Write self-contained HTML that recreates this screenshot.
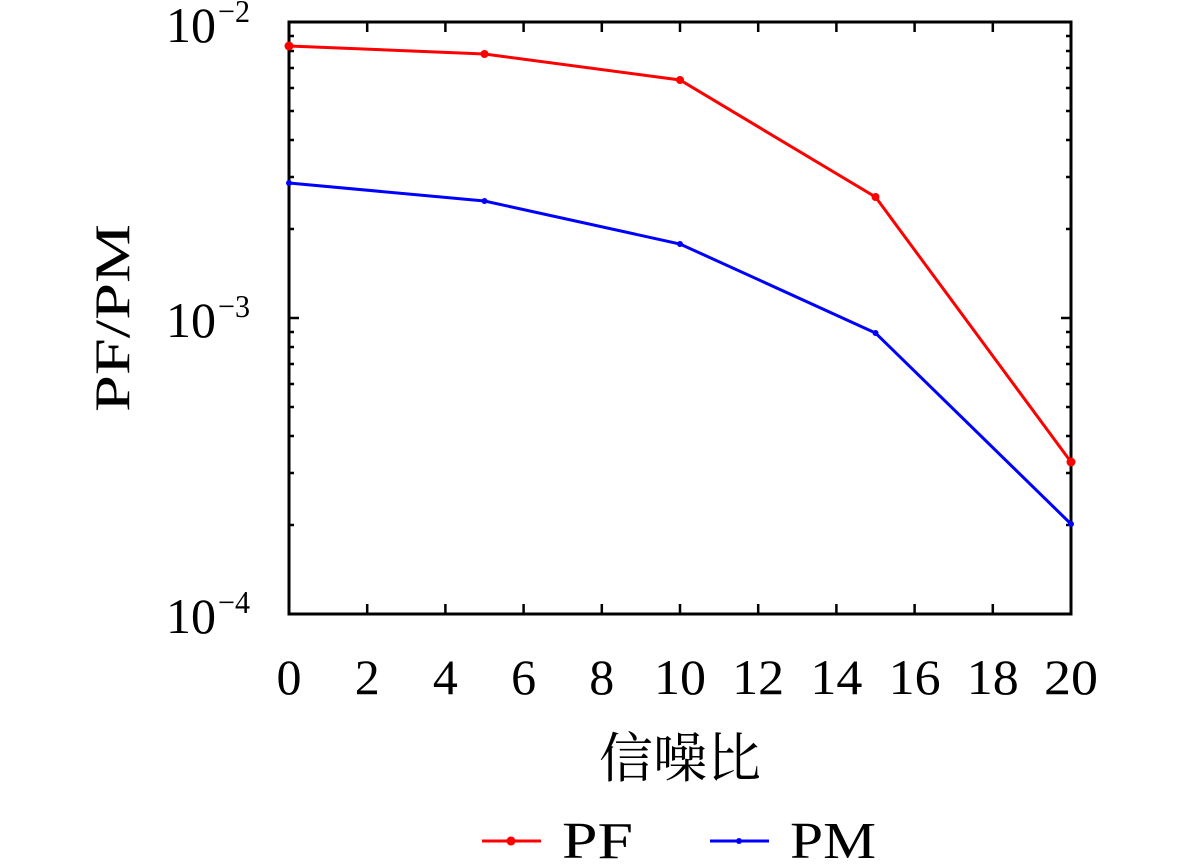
<!DOCTYPE html>
<html><head><meta charset="utf-8"><style>
body{margin:0;background:#fff;}
text{font-family:"Liberation Serif","Noto Serif CJK SC",serif;fill:#000;}
</style></head><body>
<svg width="1181" height="862" viewBox="0 0 1181 862" xmlns="http://www.w3.org/2000/svg">
<rect x="289" y="22" width="782" height="592" fill="none" stroke="#000" stroke-width="3"/>
<g stroke="#000" stroke-width="2.5">
<path d="M367.2 614v-10M445.4 614v-10M523.6 614v-10M601.8 614v-10M680 614v-10M758.2 614v-10M836.4 614v-10M914.6 614v-10M992.8 614v-10
M367.2 22v10M445.4 22v10M523.6 22v10M601.8 22v10M680 22v10M758.2 22v10M836.4 22v10M914.6 22v10M992.8 22v10
M289 318h10M1071 318h-10"/>
<path d="
M289 525h5M289 473h5M289 436h5M289 407h5M289 384h5M289 364h5M289 347h5M289 332h5
M289 229h5M289 177h5M289 140h5M289 111h5M289 88h5M289 68h5M289 51h5M289 36h5
M1071 525h-5M1071 473h-5M1071 436h-5M1071 407h-5M1071 384h-5M1071 364h-5M1071 347h-5M1071 332h-5
M1071 229h-5M1071 177h-5M1071 140h-5M1071 111h-5M1071 88h-5M1071 68h-5M1071 51h-5M1071 36h-5"/>
</g>
<polyline points="289,46 484.5,54 680,80 875.5,197 1071,462" fill="none" stroke="#f00" stroke-width="3"/>
<g fill="#f00"><circle cx="289" cy="46" r="4.5"/><circle cx="484.5" cy="54" r="4"/><circle cx="680" cy="80" r="4"/><circle cx="875.5" cy="197" r="4"/><circle cx="1071" cy="462" r="4.5"/></g>
<polyline points="289,183 484.5,201 680,244 875.5,333 1071,524" fill="none" stroke="#00f" stroke-width="3"/>
<g fill="#00f"><circle cx="289" cy="183" r="3"/><circle cx="484.5" cy="201" r="3"/><circle cx="680" cy="244" r="3"/><circle cx="875.5" cy="333" r="3"/><circle cx="1071" cy="524" r="3"/></g>
<g font-size="50">
<text x="166" y="42" textLength="50" lengthAdjust="spacingAndGlyphs">10</text><text x="218" y="22" font-size="32" textLength="32" lengthAdjust="spacingAndGlyphs">−2</text>
<text x="166" y="337" textLength="50" lengthAdjust="spacingAndGlyphs">10</text><text x="218" y="317" font-size="32" textLength="32" lengthAdjust="spacingAndGlyphs">−3</text>
<text x="166" y="633" textLength="50" lengthAdjust="spacingAndGlyphs">10</text><text x="218" y="613" font-size="32" textLength="32" lengthAdjust="spacingAndGlyphs">−4</text>
</g>
<g font-size="50" text-anchor="middle">
<text x="289" y="694">0</text><text x="367.2" y="694">2</text><text x="445.4" y="694">4</text><text x="523.6" y="694">6</text><text x="601.8" y="694">8</text>
<text x="680" y="694" textLength="52" lengthAdjust="spacingAndGlyphs">10</text><text x="758.2" y="694" textLength="52" lengthAdjust="spacingAndGlyphs">12</text><text x="836.4" y="694" textLength="52" lengthAdjust="spacingAndGlyphs">14</text><text x="914.6" y="694" textLength="52" lengthAdjust="spacingAndGlyphs">16</text><text x="992.8" y="694" textLength="52" lengthAdjust="spacingAndGlyphs">18</text><text x="1071" y="694" textLength="54" lengthAdjust="spacingAndGlyphs">20</text>
<text x="680" y="777" font-size="54">信噪比</text>
<text transform="translate(129,318) rotate(-90)" font-size="50" textLength="188" lengthAdjust="spacingAndGlyphs">PF/PM</text>
</g>
<line x1="482" y1="841" x2="541" y2="841" stroke="#f00" stroke-width="3"/>
<circle cx="511" cy="841" r="4.5" fill="#f00"/>
<text x="562" y="858" font-size="52" textLength="71" lengthAdjust="spacingAndGlyphs">PF</text>
<line x1="710" y1="841" x2="769" y2="841" stroke="#00f" stroke-width="3"/>
<circle cx="739" cy="841" r="3" fill="#00f"/>
<text x="790" y="858" font-size="52" textLength="86" lengthAdjust="spacingAndGlyphs">PM</text>
</svg>
</body></html>
